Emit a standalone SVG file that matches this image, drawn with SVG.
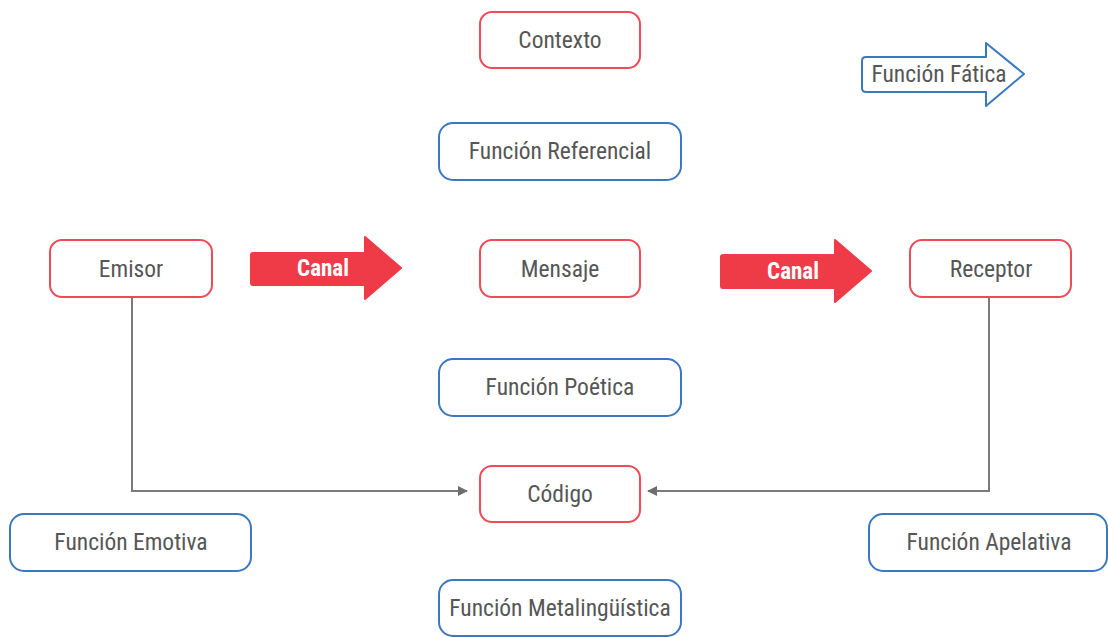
<svg xmlns="http://www.w3.org/2000/svg" width="1108" height="637" viewBox="0 0 1108 637">
<defs>
<style>
.red{fill:#fff;stroke:#ef4b57;stroke-width:2}
.blue{fill:#fff;stroke:#3a78c0;stroke-width:2;stroke-linejoin:round}
.t{font-family:"Roboto Condensed","Liberation Sans Narrow","DejaVu Sans Condensed","Roboto",sans-serif;font-stretch:condensed;font-size:23.5px;font-weight:normal;fill:#565656;text-anchor:middle;dominant-baseline:central}
.w{fill:#fff;font-weight:bold;font-size:23px}
.canal{fill:#ef3a47;stroke:#ef3a47;stroke-width:2;stroke-linejoin:round}
.conn{fill:none;stroke:#7a7a7a;stroke-width:2}
</style>
<marker id="ah" markerWidth="10" markerHeight="10" refX="9" refY="5" orient="auto" markerUnits="userSpaceOnUse" viewBox="0 0 10 10">
<path d="M0,0 L10,5 L0,10 Z" fill="#6e6e6e"/>
</marker>
</defs>
<g id="connectors">
<path class="conn" d="M132,297 V491 H467" marker-end="url(#ah)"/>
<path class="conn" d="M989,297 V491 H648" marker-end="url(#ah)"/>
</g>
<g id="contexto"><rect class="red" x="480" y="12" width="160" height="56" rx="12"/><text class="t" x="560" y="40">Contexto</text></g>
<g id="fatica"><path class="blue" d="M866,57 H986 V43 L1024,74 L986,106 V92 H866 Q862,92 862,88 V61 Q862,57 866,57 Z"/><text class="t" x="939" y="74">Función Fática</text></g>
<g id="referencial"><rect class="blue" x="439" y="123" width="242" height="57" rx="14"/><text class="t" x="560" y="151">Función Referencial</text></g>
<g id="emisor"><rect class="red" x="50" y="240" width="162" height="57" rx="12"/><text class="t" x="131" y="269">Emisor</text></g>
<g id="canal1"><path class="canal" d="M253,253 H365 V237 L401,268 L365,299 V285 H253 Q251,285 251,283 V255 Q251,253 253,253 Z"/><text class="t w" x="323" y="268">Canal</text></g>
<g id="mensaje"><rect class="red" x="480" y="240" width="160" height="57" rx="12"/><text class="t" x="560" y="269">Mensaje</text></g>
<g id="canal2"><path class="canal" d="M723,255 H835 V240 L871,271 L835,302 V288 H723 Q721,288 721,286 V257 Q721,255 723,255 Z"/><text class="t w" x="793" y="271">Canal</text></g>
<g id="receptor"><rect class="red" x="910" y="240" width="161" height="57" rx="12"/><text class="t" x="991" y="269">Receptor</text></g>
<g id="poetica"><rect class="blue" x="439" y="359" width="242" height="57" rx="14"/><text class="t" x="560" y="387">Función Poética</text></g>
<g id="codigo"><rect class="red" x="480" y="466" width="160" height="56" rx="12"/><text class="t" x="560" y="494">Código</text></g>
<g id="emotiva"><rect class="blue" x="10" y="514" width="241" height="57" rx="14"/><text class="t" x="131" y="542">Función Emotiva</text></g>
<g id="apelativa"><rect class="blue" x="869" y="514" width="238" height="57" rx="14"/><text class="t" x="989" y="542">Función Apelativa</text></g>
<g id="metalinguistica"><rect class="blue" x="439" y="580" width="242" height="56" rx="14"/><text class="t" x="560" y="608">Función Metalingüística</text></g>
</svg>
